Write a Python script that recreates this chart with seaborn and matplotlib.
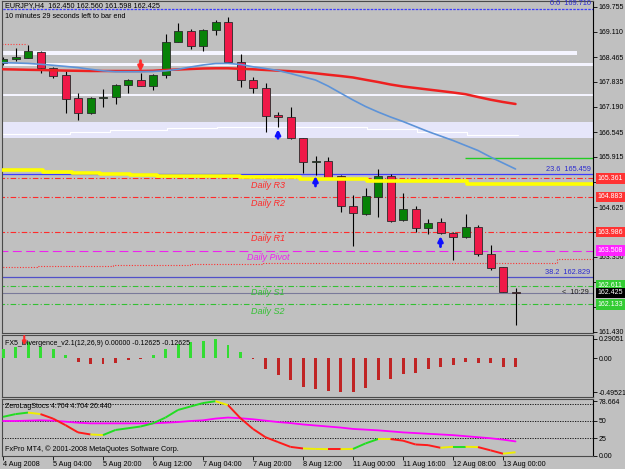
import numpy as np
import matplotlib
matplotlib.use("Agg")
import matplotlib.pyplot as plt
import matplotlib.transforms as mtransforms
import seaborn as sns

# ---------------- texts ----------------
symbol_header = "EURJPY,H4  162.450 162.560 161.598 162.425"
countdown_text = "10 minutes 29 seconds left to bar end"
macd_title = "FX5_Divergence_v2.1(12,26,9) 0.00000 -0.12625 -0.12625"
stoch_title = "ZeroLagStocs 4.704 4.704 20.440"
copyright_text = "FxPro MT4, \u00a9 2001-2008 MetaQuotes Software Corp."

# ---------------- H4 candles ----------------
opens = [168.315, 168.417, 168.451, 168.604, 168.179, 168.008, 167.418, 167.034, 167.418, 167.444,
         167.751, 167.879, 167.733, 168.008, 168.861, 169.142, 168.758, 169.160, 169.373, 168.348,
         167.879, 167.667, 166.983, 166.939, 166.386, 165.771, 165.812, 165.420, 164.660, 164.447,
         164.890, 165.420, 164.293, 164.575, 164.081, 164.234, 163.968, 163.850, 164.122, 163.415,
         163.082, 162.450]
highs = [168.469, 168.699, 168.776, 168.622, 168.212, 168.110, 167.546, 167.444, 167.649, 167.777,
         167.905, 168.059, 168.033, 169.058, 169.340, 169.186, 169.173, 169.416, 169.501, 168.538,
         167.964, 167.795, 167.067, 167.196, 166.400, 165.940, 165.915, 165.446, 164.934, 165.105,
         165.592, 165.464, 164.977, 164.652, 164.311, 164.337, 163.986, 164.447, 164.165, 163.653,
         163.090, 162.560]
lows = [168.264, 168.374, 168.443, 168.051, 167.938, 167.034, 166.855, 167.021, 167.188, 167.265,
        167.546, 167.726, 167.623, 167.931, 168.853, 168.674, 168.630, 169.032, 168.341, 167.708,
        167.554, 166.555, 166.683, 166.368, 165.490, 165.446, 165.344, 164.506, 163.627, 164.421,
        164.378, 164.234, 164.280, 163.994, 163.935, 163.935, 163.269, 163.832, 163.371, 163.013,
        162.440, 161.598]
closes = [168.417, 168.461, 168.622, 168.179, 167.990, 167.393, 167.034, 167.418, 167.444, 167.751,
          167.879, 167.733, 168.008, 168.861, 169.142, 168.758, 169.160, 169.357, 168.348, 167.879,
          167.682, 166.965, 166.939, 166.386, 165.787, 165.812, 165.362, 164.660, 164.465, 164.908,
          165.420, 164.275, 164.575, 164.081, 164.224, 163.953, 163.850, 164.122, 163.415, 163.072,
          162.450, 162.425]

# moving averages
ma_red = [168.154, 168.148, 168.141, 168.136, 168.128, 168.120, 168.115, 168.110, 168.110, 168.110,
          168.110, 168.110, 168.115, 168.136, 168.148, 168.161, 168.174, 168.179, 168.179, 168.166,
          168.154, 168.136, 168.120, 168.105, 168.084, 168.051, 168.015, 167.982, 167.944, 167.885,
          167.828, 167.764, 167.713, 167.675, 167.636, 167.598, 167.559, 167.516, 167.444, 167.375,
          167.316, 167.265]
ma_blue = [168.323, 168.315, 168.305, 168.282, 168.256, 168.228, 168.197, 168.154, 168.115, 168.092,
           168.092, 168.092, 168.097, 168.115, 168.154, 168.212, 168.264, 168.302, 168.305, 168.277,
           168.218, 168.174, 168.123, 168.046, 167.961, 167.879, 167.726, 167.546, 167.367, 167.201,
           167.060, 166.932, 166.816, 166.688, 166.560, 166.445, 166.330, 166.202, 166.074, 165.907,
           165.753, 165.600]

# yellow stepped line (bar breakpoints / levels)
yellow_x = [-0.24, 3.2, 5.52, 7.76, 10.16, 12.32, 14.56, 18.96, 23.76, 29.12, 37.12, 47.2]
yellow_y = [165.574, 165.515, 165.490, 165.472, 165.454, 165.428, 165.420, 165.387, 165.354, 165.280,
            165.203, 165.203]

# white stepped line inside the lavender zone
white_x = [-0.24, 5.36, 8.56, 13.12, 17.12, 29.12, 33.12, 37.12, 41.2]
white_y = [166.496, 166.548, 166.599, 166.642, 166.676, 166.617, 166.555, 166.471, 166.471]

# red dotted stepped line
reddot_x = [-0.24, 2.72, 8.8, 14.96, 20.8, 44.3, 47.2]
reddot_y = [163.097, 163.125, 163.150, 163.175, 163.184, 163.287, 163.287]

# zones
zone_tops = [168.622, 168.315, 167.521, 166.804]
zone_bottoms = [168.520, 168.238, 167.470, 166.394]
zone_right = [45.9, 47.2, 47.2, 47.2]

# daily pivots
pivot_names = ["Daily R3", "Daily R2", "Daily R1", "Daily Pivot", "Daily S1", "Daily S2"]
pivot_levels = [165.361, 164.883, 163.986, 163.508, 162.611, 162.133]

# fibonacci
fib_names = ["0.0", "23.6", "38.2"]
fib_levels = [169.710, 165.459, 162.829]

bid_price = 162.425
green_level = 165.882
prev_high = 168.802

price_ticks = [169.755, 169.110, 168.465, 167.835, 167.190, 166.545, 165.915, 165.270,
               164.625, 163.980, 163.350, 162.705, 162.075, 161.430]
hidden_ticks = [165.270, 163.980, 162.705, 162.075]   # covered by the price boxes
box_values = [165.361, 164.883, 163.986, 163.508, 162.611, 162.425, 162.133]

# arrows: bar, tip, tail
arrow_red = [(11, 168.092, 168.374)]
arrow_blue = [(22, 166.617, 166.386), (25, 165.420, 165.164), (35, 163.883, 163.610)]

# ---------------- indicators ----------------
macd_hist = [0.140, 0.172, 0.235, 0.172, 0.137, 0.049, -0.049, -0.078, -0.088, -0.074,
             -0.029, -0.012, 0.049, 0.137, 0.206, 0.235, 0.254, 0.29051, 0.196, 0.088,
             -0.015, -0.151, -0.246, -0.324, -0.416, -0.446, -0.481, -0.49521, -0.495, -0.441,
             -0.324, -0.299, -0.235, -0.210, -0.151, -0.122, -0.099, -0.049, -0.063, -0.074,
             -0.120, -0.12625]

stoch_main = [56, 60, 62.2, 60, 53.5, 44, 33.5, 30.5, 29.6, 37,
              39.5, 42, 46.6, 55, 66, 71, 76, 78.664, 73, 54,
              38.5, 26.5, 19.5, 12.5, 10.2, 9.5, 9.2, 9.2, 9.5, 17.5,
              23.8, 23.8, 21.5, 16, 15, 11.2, 12.7, 12.7, 12.2, 7.5,
              2.63, 4.704]
stoch_signal = [50, 50, 50.5, 51, 50.5, 49, 47.5, 46.6, 46.6, 46.6,
                46.6, 46.6, 46.6, 47.5, 48.5, 50, 51, 53.5, 55, 54,
                52.5, 50.5, 48.5, 47, 45, 43.5, 42, 40.5, 38.5, 37.5,
                36.5, 35, 33.5, 32.5, 31.5, 30.5, 29.5, 28, 26.5, 25,
                23, 20.44]
stoch_seg = "ggyrrrrygggggggggyrrrrrryyryggyrrrrygyrry"

tick_bars = [0, 4, 8, 12, 16, 20, 24, 28, 32, 36, 40]
tick_labels = ["4 Aug 2008", "5 Aug 04:00", "5 Aug 20:00", "6 Aug 12:00", "7 Aug 04:00",
               "7 Aug 20:00", "8 Aug 12:00", "11 Aug 00:00", "11 Aug 16:00", "12 Aug 08:00",
               "13 Aug 00:00"]

# ---------------- style ----------------
BG = "#c0c0c0"
sns.set_theme(style="white", rc={"axes.facecolor": BG, "figure.facecolor": BG})
plt.rcParams["font.family"] = ["Liberation Sans", "DejaVu Sans"]

W, H = 625, 469
fig = plt.figure(figsize=(6.25, 4.69), dpi=100)
L, R = 2, 593
def axes_rect(ytop, ybot):
    return [L / W, 1 - ybot / H, (R - L) / W, (ybot - ytop) / H]

ax = fig.add_axes(axes_rect(1, 333))
axm = fig.add_axes(axes_rect(335, 397), sharex=ax)
axs = fig.add_axes(axes_rect(399, 456), sharex=ax)

XMIN, XMAX = -0.08, 47.2
idx = np.arange(len(opens))

# ---------- main panel ----------
for top, bot, xr in zip(zone_tops, zone_bottoms, zone_right):
    col = "#e6e6fa" if top - bot > 0.2 else "#f4f4ff"
    ax.fill_between([XMIN - 1, xr], bot, top, color=col, lw=0, zorder=1)

ax.step(white_x, white_y, where="post", color="white", lw=0.8, zorder=1.5)
ax.hlines(prev_high, XMIN - 1, 1.9, colors="#ff4040", linestyles=(0, (1, 1.5)), lw=0.8, zorder=2)

pivot_styles = [("#ff2a2a", (0, (5, 2, 1, 2)))] * 3 + [("#ee22ee", (0, (8, 4)))] + \
               [("#33c033", (0, (5, 2, 1, 2)))] * 2
for name, lev, (col, ls) in zip(pivot_names, pivot_levels, pivot_styles):
    ax.hlines(lev, XMIN - 1, XMAX + 1, colors=col, linestyles=ls, lw=0.8, zorder=2)
    ax.text(21.2, lev - 0.06, name, color=col, fontsize=6.5, style="italic",
            ha="center", va="top", zorder=6)

ax.step(reddot_x, reddot_y, where="post", color="#ff3030", lw=0.8, ls=(0, (1, 1.5)), zorder=2)

fib_styles = [("#3c3cff", (0, (2, 1))), ("#3c3cff", "-"), ("#5050c8", "-")]
for name, lev, (col, ls) in zip(fib_names, fib_levels, fib_styles):
    ax.hlines(lev, XMIN - 1, XMAX + 1, colors=col, linestyles=ls, lw=0.9, zorder=2)
    ax.text(47.0, lev + 0.035, f"{name}  {lev:.3f}", color="#2a2ad0", fontsize=5.3,
            ha="right", va="bottom", zorder=6)

ax.hlines(green_level, 36.96, XMAX + 1, colors="#22cc22", lw=1.0, zorder=2)
ax.hlines(bid_price, XMIN - 1, XMAX + 1, colors="#7a7a9a", lw=0.8, zorder=2)
ax.text(46.9, bid_price + 0.01, "<  10:29", color="#202020", fontsize=5.3,
        ha="right", va="center", zorder=6)

# candles
o = np.array(opens); c = np.array(closes); hi = np.array(highs); lo = np.array(lows)
bull = c >= o
ax.vlines(idx, lo, hi, colors="black", lw=0.8, zorder=3)
body_bottom = np.minimum(o, c)
body_h = np.maximum(np.abs(c - o), 0.03)
ax.bar(idx, body_h, bottom=body_bottom, width=0.64,
       color=np.where(bull, "#078207", "#f01848"), edgecolor="#2a2a2a", linewidth=0.6, zorder=3.5)

# indicator lines over candles
ax.step(yellow_x, yellow_y, where="post", color="#ffff00", lw=2.6, zorder=4)
sns.lineplot(x=idx, y=ma_red, ax=ax, color="#ee2020", linewidth=1.8, zorder=4.2)
sns.lineplot(x=idx, y=ma_blue, ax=ax, color="#5d93d8", linewidth=1.2, zorder=4.3)

for b, tip, tail in arrow_red:
    ax.annotate("", xy=(b, tip), xytext=(b, tail),
                arrowprops=dict(arrowstyle="-|>", color="#ff2a2a", lw=2, mutation_scale=7,
                                shrinkA=0, shrinkB=0), zorder=6)
for b, tip, tail in arrow_blue:
    ax.annotate("", xy=(b, tip), xytext=(b, tail),
                arrowprops=dict(arrowstyle="-|>", color="#1010ff", lw=2, mutation_scale=7,
                                shrinkA=0, shrinkB=0), zorder=6)

ax.set_xlim(XMIN, XMAX)
ax.set_ylim(161.399, 169.903)
ax.set_yticks(price_ticks)
ax.set_yticklabels(["" if t in hidden_ticks else f"{t:.3f}" for t in price_ticks])

# price boxes on the right axis
box_colors = ["#ff3333", "#ff3333", "#ff3333", "#ff22ff", "#33cc33", "#000000", "#33cc33"]
trans = mtransforms.blended_transform_factory(ax.transAxes, ax.transData)
for v, col in zip(box_values, box_colors):
    ax.text(1.008, v, f"{v:.3f}", transform=trans, fontsize=5, color="white",
            ha="left", va="center", clip_on=False, zorder=10,
            bbox=dict(boxstyle="square,pad=0.28", fc=col, ec="none"))

fig.text(5 / W, 1 - 6 / H, symbol_header, fontsize=5.2, color="black", va="center", ha="left")
fig.text(5 / W, 1 - 16 / H, countdown_text, fontsize=5.2, color="black", va="center", ha="left")

# ---------- MACD panel ----------
hist = np.array(macd_hist)
axm.bar(idx, hist, width=0.24, color=np.where(hist >= 0, "#33dd33", "#c02424"),
        linewidth=0, zorder=3)
axm.set_ylim(-0.568, 0.344)
axm.set_yticks([0.29051, 0.0, -0.49521])
axm.set_yticklabels(["0.29051", "0.00", "-0.49521"])
axm.text(3 / (R - L), 0.87, macd_title, transform=axm.transAxes, fontsize=5, color="black",
         ha="left", va="center", zorder=6)
axm.annotate("", xy=(1.7, 0.19), xytext=(1.7, 0.33),
             arrowprops=dict(arrowstyle="-|>", color="#ff2a2a", lw=1.5, mutation_scale=5,
                             shrinkA=0, shrinkB=0), zorder=6)

# ---------- stochastic panel ----------
for lev in (75, 50, 25):
    axs.axhline(lev, color="black", lw=0.6, ls=(0, (1.5, 1.5)), zorder=2)
sns.lineplot(x=idx, y=stoch_signal, ax=axs, color="#ff00ff", linewidth=1.3, zorder=3)
seg_col = {"g": "#22dd22", "y": "#eeee00", "r": "#ff1a1a"}
for i, ch in enumerate(stoch_seg):
    axs.plot(idx[i:i + 2], stoch_main[i:i + 2], color=seg_col[ch], lw=1.4,
             solid_capstyle="butt", zorder=4)
axs.set_ylim(-0.72, 81.88)
axs.set_yticks([78.664, 50, 25, 0])
axs.set_yticklabels(["78.664", "50", "25", "0.00"])
axs.text(3 / (R - L), 0.87, stoch_title, transform=axs.transAxes, fontsize=5, color="black",
         ha="left", va="center", zorder=6)
axs.text(3 / (R - L), 0.12, copyright_text, transform=axs.transAxes, fontsize=5.2,
         color="black", ha="left", va="center", zorder=6)

axs.set_xticks(tick_bars)
axs.set_xticklabels(tick_labels, ha="left", fontsize=5.2)

# ---------- common axis styling ----------
for a in (ax, axm, axs):
    a.set_xlabel("")
    a.set_ylabel("")
    a.set_facecolor(BG)
    a.yaxis.tick_right()
    a.tick_params(axis="y", labelsize=5, length=3, width=0.6, pad=1, direction="out",
                  colors="black", right=True, left=False)
    for s in a.spines.values():
        s.set_color("#4a4a4a")
        s.set_linewidth(0.8)
    a.spines["right"].set_color("black")
for a in (ax, axm):
    a.tick_params(axis="x", bottom=False, labelbottom=False)
axs.tick_params(axis="x", bottom=True, length=3, width=0.6, pad=0.5, direction="out",
                colors="black", labelsize=5.2)

fig.savefig("out.png", dpi=100, facecolor=BG)
